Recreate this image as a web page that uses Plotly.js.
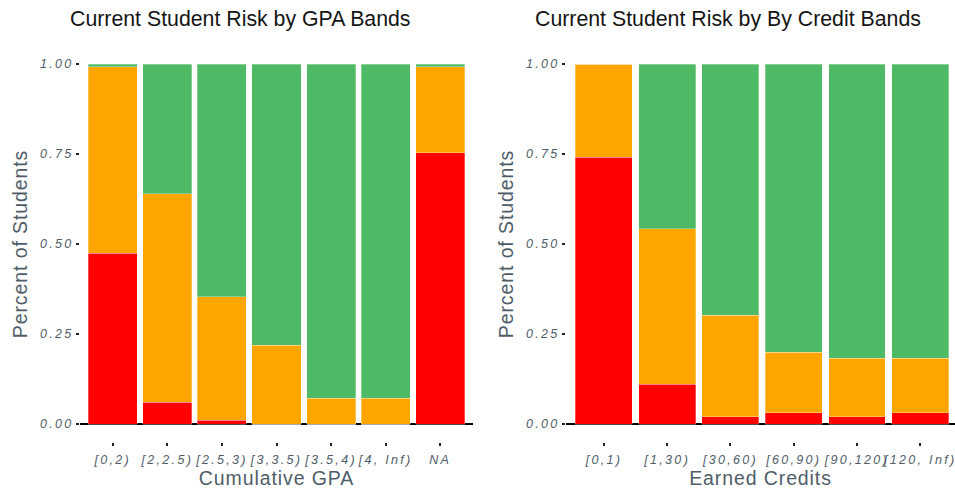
<!DOCTYPE html>
<html><head><meta charset="utf-8">
<script src="https://cdn.plot.ly/plotly-3.0.1.min.js"></script>
<style>
body{margin:0;padding:0;background:#fff}
#chart{width:955px;height:496px}
#chart .xtick text, #chart .x2tick text, #chart .ytick text, #chart .y2tick text{letter-spacing:2.3px}
#chart text.xtitle, #chart text.x2title, #chart text.ytitle, #chart text.y2title{letter-spacing:0.9px}
</style>
</head><body><div id="chart"></div>
<script>
const gpaBands = ["[0,2)", "[2,2.5)", "[2.5,3)", "[3,3.5)", "[3.5,4)", "[4, Inf)", "NA"];
const gpaRed    = [0.475, 0.060, 0.010, 0.000, 0.000, 0.000, 0.753];
const gpaOrange = [0.517, 0.579, 0.343, 0.219, 0.071, 0.071, 0.239];
const gpaGreen  = [0.008, 0.361, 0.647, 0.781, 0.929, 0.929, 0.008];

const creditBands = ["[0,1)", "[1,30)", "[30,60)", "[60,90)", "[90,120)", "[120, Inf)"];
const crRed    = [0.741, 0.110, 0.020, 0.031, 0.020, 0.031];
const crOrange = [0.259, 0.432, 0.282, 0.169, 0.163, 0.152];
const crGreen  = [0.000, 0.458, 0.698, 0.800, 0.817, 0.817];

const RED = "#FF0000", ORANGE = "#FFA500", GREEN = "#4EBA65";
const FONT = "Liberation Sans, Arial, sans-serif";
const GREY = "#4F5D69";

function bar(x, y, color, xa, ya) {
  return {type: "bar", x: x, y: y, xaxis: xa, yaxis: ya, showlegend: false,
    marker: {color: color, line: {color: "rgba(255,255,255,0.6)", width: 0.5}}, hoverinfo: "x+y"};
}
const data = [
  bar(gpaBands, gpaRed, RED, "x", "y"),
  bar(gpaBands, gpaOrange, ORANGE, "x", "y"),
  bar(gpaBands, gpaGreen, GREEN, "x", "y"),
  bar(creditBands, crRed, RED, "x2", "y2"),
  bar(creditBands, crOrange, ORANGE, "x2", "y2"),
  bar(creditBands, crGreen, GREEN, "x2", "y2")
];
const W = 955, H = 496;
const yDom = [1 - 442 / H, 1 - 46 / H];
function xaxis(dom, rng, title) {
  return {domain: dom, range: rng, type: "category", showgrid: false, zeroline: false, showline: false,
    ticks: "outside", ticklen: 3, tickwidth: 2, tickcolor: "#222", ticklabelstandoff: 3,
    tickfont: {family: FONT, size: 12.5, color: GREY, style: "italic"},
    title: {text: title, font: {family: FONT, size: 19.5, color: GREY}, standoff: 4},
    fixedrange: true};
}
function yaxis(dom, anchor, title) {
  return {domain: dom, anchor: anchor, range: [-0.05, 1.05], showgrid: false,
    zeroline: true, zerolinecolor: "#000", zerolinewidth: 2.5, showline: false,
    tickvals: [0, 0.25, 0.5, 0.75, 1], ticktext: ["0.00", "0.25", "0.50", "0.75", "1.00"],
    ticks: "outside", ticklen: 3, tickwidth: 2, tickcolor: "#222", ticklabelstandoff: 0,
    tickfont: {family: FONT, size: 12.5, color: GREY, style: "italic"},
    title: {text: title, font: {family: FONT, size: 19.5, color: GREY}, standoff: 16},
    fixedrange: true};
}
const layout = {
  width: W, height: H, margin: {l: 0, r: 0, t: 0, b: 0},
  paper_bgcolor: "#fff", plot_bgcolor: "#fff",
  barmode: "stack", bargap: 0.1,
  font: {family: FONT},
  xaxis: Object.assign(xaxis([80 / W, 473 / W], [-0.6, 6.6], "Cumulative GPA"), {anchor: "y"}),
  yaxis: yaxis(yDom, "x", "Percent of Students"),
  xaxis2: Object.assign(xaxis([566 / W, 1], [-0.6, 5.55], "Earned Credits"), {anchor: "y2"}),
  yaxis2: yaxis(yDom, "x2", "Percent of Students"),
  annotations: [
    {text: "Current Student Risk by GPA Bands", xref: "paper", yref: "paper", x: 68 / W, y: 1 - 19 / H,
      xanchor: "left", yanchor: "middle", showarrow: false, font: {family: FONT, size: 21.3, color: "#151515"}},
    {text: "Current Student Risk by By Credit Bands", xref: "paper", yref: "paper", x: 533 / W, y: 1 - 19 / H,
      xanchor: "left", yanchor: "middle", showarrow: false, font: {family: FONT, size: 21.3, color: "#151515"}}
  ]
};
Plotly.newPlot("chart", data, layout, {displayModeBar: false, staticPlot: true});
</script></body></html>
